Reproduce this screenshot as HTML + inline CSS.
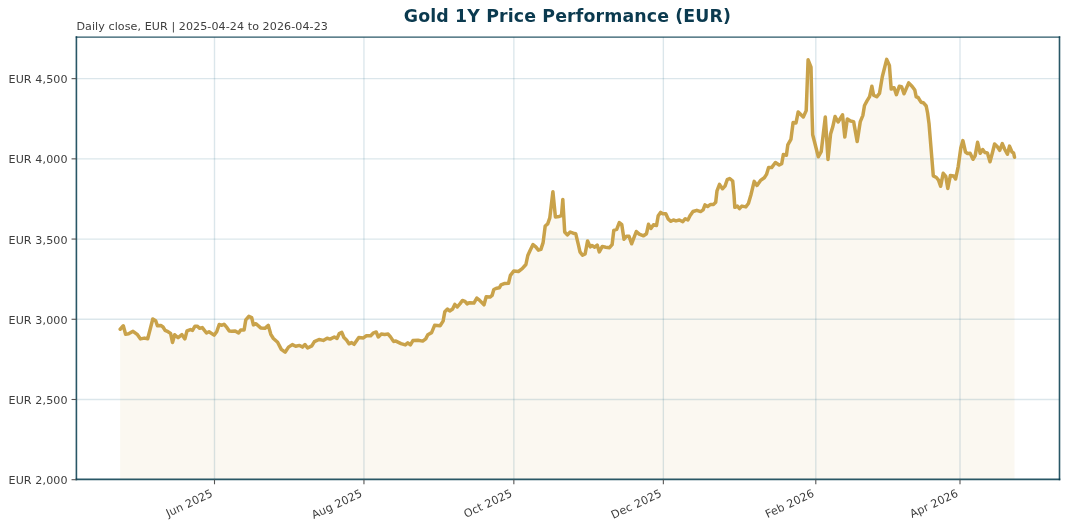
<!DOCTYPE html>
<html><head><meta charset="utf-8"><title>Gold 1Y Price Performance (EUR)</title>
<style>html,body{margin:0;padding:0;background:#fff;} svg{display:block;will-change:transform;}</style></head>
<body>
<svg width="1068" height="530" viewBox="0 0 1068 530">
<rect width="1068" height="530" fill="#ffffff"/>
<polygon points="120.2,479.4 120.2,329.2 123.3,325.8 125.6,334.3 128.6,333.8 133.0,331.3 137.5,334.7 140.5,338.9 144.3,338.1 147.7,338.7 152.8,319.0 155.7,320.7 157.4,325.8 160.8,325.4 163.0,327.0 165.1,330.4 168.0,331.7 170.6,333.4 172.5,342.5 174.7,334.7 178.1,337.7 181.9,334.7 184.9,338.9 187.0,330.9 190.4,329.6 192.5,330.4 195.0,326.2 197.2,326.2 199.7,328.3 202.3,327.6 206.5,333.0 209.0,331.7 214.1,335.1 216.7,331.7 219.2,324.5 221.8,325.3 224.0,324.2 227.0,327.7 229.3,331.1 231.8,331.3 235.2,330.9 238.6,333.0 240.7,330.0 244.1,330.0 245.8,319.8 248.8,316.4 251.7,317.7 253.4,324.9 256.0,323.7 260.7,327.9 264.9,328.3 268.3,325.4 270.8,334.3 273.4,338.5 277.6,342.3 281.3,349.4 285.1,352.2 288.5,347.1 292.3,344.6 295.7,346.3 299.5,345.4 302.5,347.1 305.0,344.6 307.6,348.0 311.8,345.9 314.4,341.6 319.0,339.5 323.3,340.4 327.1,338.2 330.1,339.1 334.3,337.0 337.0,338.5 339.3,333.6 341.8,332.4 343.9,337.5 346.5,340.0 349.0,343.8 351.6,342.6 354.1,344.3 358.8,337.5 363.4,337.9 366.4,335.8 370.7,335.8 373.6,332.8 376.2,332.0 378.3,337.0 381.3,334.1 384.7,334.5 388.1,334.1 390.5,336.9 393.5,341.4 395.9,341.1 401.0,343.6 405.3,344.9 407.8,342.8 410.4,344.9 412.9,340.6 418.0,340.2 422.7,341.1 425.7,338.9 427.8,334.7 431.6,332.6 434.6,325.3 440.1,325.8 443.1,321.1 444.8,311.8 447.5,309.1 449.7,311.0 452.6,309.0 454.8,304.4 457.3,306.9 459.9,303.9 462.4,300.5 465.0,301.4 467.1,303.9 469.6,302.7 473.9,303.1 476.8,298.0 479.4,300.1 484.0,304.8 486.2,296.7 490.0,297.1 492.1,295.4 493.8,289.5 496.8,288.2 499.3,287.8 501.0,284.9 504.8,283.4 508.5,283.3 510.4,275.3 513.7,271.1 518.4,271.5 522.2,268.7 525.9,264.5 527.8,255.5 530.2,250.3 533.0,244.6 535.8,246.9 538.4,250.2 540.9,249.4 543.1,242.6 545.2,226.0 547.7,223.9 549.8,217.9 552.9,191.7 555.4,216.9 559.2,216.4 561.5,215.6 562.8,199.4 564.7,232.0 567.3,234.9 570.2,232.0 573.2,233.2 575.7,233.7 578.3,244.3 580.0,251.9 582.5,255.3 585.1,254.0 587.6,240.9 590.2,246.9 592.0,245.5 594.7,247.2 597.2,245.1 599.3,251.9 602.3,246.4 605.7,247.2 609.5,247.7 612.1,244.7 613.8,230.3 616.7,229.4 619.3,222.6 621.8,224.7 624.0,239.2 626.5,236.2 629.0,236.2 631.6,243.8 636.3,231.5 639.2,234.1 643.5,235.8 646.5,233.7 648.5,224.3 650.9,228.5 653.5,224.7 656.5,225.5 658.2,215.8 660.7,212.4 662.8,213.7 665.8,213.7 668.3,219.2 670.9,221.3 673.4,220.0 676.0,220.9 679.4,220.0 682.8,221.7 685.3,218.7 687.9,220.0 690.0,215.8 693.0,211.5 696.8,210.3 700.6,211.6 703.1,209.9 705.0,204.9 707.6,206.5 710.6,204.4 713.6,204.4 715.7,202.2 717.0,190.8 719.5,184.4 722.5,188.7 725.0,186.1 727.2,179.7 729.7,178.5 732.7,181.0 734.0,195.0 734.8,207.3 737.4,206.1 739.5,208.6 742.0,206.1 745.8,206.9 748.4,203.5 750.9,195.0 754.2,181.4 757.0,185.4 760.5,180.4 764.3,177.8 766.5,174.4 768.6,167.6 771.6,167.6 775.4,162.5 779.2,165.0 781.7,163.7 783.4,154.4 786.4,155.3 787.8,144.9 790.9,139.4 793.1,122.5 796.0,122.9 798.2,111.9 803.3,117.0 806.2,110.6 808.1,59.8 811.0,67.2 812.1,115.4 812.7,134.7 818.3,156.8 821.2,151.7 825.3,117.0 828.0,159.4 830.6,133.9 832.7,127.1 835.1,116.5 838.1,122.0 842.5,114.8 844.8,137.0 847.3,119.0 850.5,121.0 853.6,121.6 857.2,141.6 860.3,121.6 862.9,115.3 864.5,105.5 867.0,100.9 869.6,96.6 871.9,86.2 873.6,95.2 876.7,96.8 879.5,93.4 882.3,76.8 886.7,59.4 889.4,65.5 891.2,89.1 894.1,87.7 896.4,94.7 899.3,86.2 901.6,86.7 904.0,93.8 908.7,82.9 912.0,86.2 914.8,90.0 916.2,96.8 918.1,97.5 921.0,102.2 923.3,102.7 926.2,106.0 927.6,113.0 929.0,123.4 933.3,175.9 936.4,177.5 938.5,180.1 940.6,186.3 943.2,173.3 945.8,176.4 947.8,188.4 950.4,175.4 953.6,175.9 955.6,179.0 958.2,166.6 960.8,147.9 962.9,140.6 965.5,152.0 967.6,153.6 970.1,153.3 973.0,159.3 975.1,155.9 977.6,142.3 980.2,153.3 982.7,149.5 984.9,152.5 987.4,152.9 990.0,161.8 992.5,152.5 994.6,144.0 997.2,146.5 999.7,150.3 1002.3,143.6 1004.8,149.5 1007.4,154.2 1009.5,146.1 1012.0,152.0 1013.6,153.0 1014.5,157.2 1014.5,479.4" fill="#c9a24a" fill-opacity="0.08" stroke="none"/>
<line x1="214.5" y1="37.1" x2="214.5" y2="479.4" stroke="#1f6385" stroke-opacity="0.16" stroke-width="1.35"/>
<line x1="363.95" y1="37.1" x2="363.95" y2="479.4" stroke="#1f6385" stroke-opacity="0.16" stroke-width="1.35"/>
<line x1="513.85" y1="37.1" x2="513.85" y2="479.4" stroke="#1f6385" stroke-opacity="0.16" stroke-width="1.35"/>
<line x1="663.35" y1="37.1" x2="663.35" y2="479.4" stroke="#1f6385" stroke-opacity="0.16" stroke-width="1.35"/>
<line x1="815.8" y1="37.1" x2="815.8" y2="479.4" stroke="#1f6385" stroke-opacity="0.16" stroke-width="1.35"/>
<line x1="960.0" y1="37.1" x2="960.0" y2="479.4" stroke="#1f6385" stroke-opacity="0.16" stroke-width="1.35"/>
<line x1="76.4" y1="399.49" x2="1059.5" y2="399.49" stroke="#1f6385" stroke-opacity="0.16" stroke-width="1.35"/>
<line x1="76.4" y1="319.27" x2="1059.5" y2="319.27" stroke="#1f6385" stroke-opacity="0.16" stroke-width="1.35"/>
<line x1="76.4" y1="239.06" x2="1059.5" y2="239.06" stroke="#1f6385" stroke-opacity="0.16" stroke-width="1.35"/>
<line x1="76.4" y1="158.85" x2="1059.5" y2="158.85" stroke="#1f6385" stroke-opacity="0.16" stroke-width="1.35"/>
<line x1="76.4" y1="78.64" x2="1059.5" y2="78.64" stroke="#1f6385" stroke-opacity="0.16" stroke-width="1.35"/>
<polyline points="120.2,329.2 123.3,325.8 125.6,334.3 128.6,333.8 133.0,331.3 137.5,334.7 140.5,338.9 144.3,338.1 147.7,338.7 152.8,319.0 155.7,320.7 157.4,325.8 160.8,325.4 163.0,327.0 165.1,330.4 168.0,331.7 170.6,333.4 172.5,342.5 174.7,334.7 178.1,337.7 181.9,334.7 184.9,338.9 187.0,330.9 190.4,329.6 192.5,330.4 195.0,326.2 197.2,326.2 199.7,328.3 202.3,327.6 206.5,333.0 209.0,331.7 214.1,335.1 216.7,331.7 219.2,324.5 221.8,325.3 224.0,324.2 227.0,327.7 229.3,331.1 231.8,331.3 235.2,330.9 238.6,333.0 240.7,330.0 244.1,330.0 245.8,319.8 248.8,316.4 251.7,317.7 253.4,324.9 256.0,323.7 260.7,327.9 264.9,328.3 268.3,325.4 270.8,334.3 273.4,338.5 277.6,342.3 281.3,349.4 285.1,352.2 288.5,347.1 292.3,344.6 295.7,346.3 299.5,345.4 302.5,347.1 305.0,344.6 307.6,348.0 311.8,345.9 314.4,341.6 319.0,339.5 323.3,340.4 327.1,338.2 330.1,339.1 334.3,337.0 337.0,338.5 339.3,333.6 341.8,332.4 343.9,337.5 346.5,340.0 349.0,343.8 351.6,342.6 354.1,344.3 358.8,337.5 363.4,337.9 366.4,335.8 370.7,335.8 373.6,332.8 376.2,332.0 378.3,337.0 381.3,334.1 384.7,334.5 388.1,334.1 390.5,336.9 393.5,341.4 395.9,341.1 401.0,343.6 405.3,344.9 407.8,342.8 410.4,344.9 412.9,340.6 418.0,340.2 422.7,341.1 425.7,338.9 427.8,334.7 431.6,332.6 434.6,325.3 440.1,325.8 443.1,321.1 444.8,311.8 447.5,309.1 449.7,311.0 452.6,309.0 454.8,304.4 457.3,306.9 459.9,303.9 462.4,300.5 465.0,301.4 467.1,303.9 469.6,302.7 473.9,303.1 476.8,298.0 479.4,300.1 484.0,304.8 486.2,296.7 490.0,297.1 492.1,295.4 493.8,289.5 496.8,288.2 499.3,287.8 501.0,284.9 504.8,283.4 508.5,283.3 510.4,275.3 513.7,271.1 518.4,271.5 522.2,268.7 525.9,264.5 527.8,255.5 530.2,250.3 533.0,244.6 535.8,246.9 538.4,250.2 540.9,249.4 543.1,242.6 545.2,226.0 547.7,223.9 549.8,217.9 552.9,191.7 555.4,216.9 559.2,216.4 561.5,215.6 562.8,199.4 564.7,232.0 567.3,234.9 570.2,232.0 573.2,233.2 575.7,233.7 578.3,244.3 580.0,251.9 582.5,255.3 585.1,254.0 587.6,240.9 590.2,246.9 592.0,245.5 594.7,247.2 597.2,245.1 599.3,251.9 602.3,246.4 605.7,247.2 609.5,247.7 612.1,244.7 613.8,230.3 616.7,229.4 619.3,222.6 621.8,224.7 624.0,239.2 626.5,236.2 629.0,236.2 631.6,243.8 636.3,231.5 639.2,234.1 643.5,235.8 646.5,233.7 648.5,224.3 650.9,228.5 653.5,224.7 656.5,225.5 658.2,215.8 660.7,212.4 662.8,213.7 665.8,213.7 668.3,219.2 670.9,221.3 673.4,220.0 676.0,220.9 679.4,220.0 682.8,221.7 685.3,218.7 687.9,220.0 690.0,215.8 693.0,211.5 696.8,210.3 700.6,211.6 703.1,209.9 705.0,204.9 707.6,206.5 710.6,204.4 713.6,204.4 715.7,202.2 717.0,190.8 719.5,184.4 722.5,188.7 725.0,186.1 727.2,179.7 729.7,178.5 732.7,181.0 734.0,195.0 734.8,207.3 737.4,206.1 739.5,208.6 742.0,206.1 745.8,206.9 748.4,203.5 750.9,195.0 754.2,181.4 757.0,185.4 760.5,180.4 764.3,177.8 766.5,174.4 768.6,167.6 771.6,167.6 775.4,162.5 779.2,165.0 781.7,163.7 783.4,154.4 786.4,155.3 787.8,144.9 790.9,139.4 793.1,122.5 796.0,122.9 798.2,111.9 803.3,117.0 806.2,110.6 808.1,59.8 811.0,67.2 812.1,115.4 812.7,134.7 818.3,156.8 821.2,151.7 825.3,117.0 828.0,159.4 830.6,133.9 832.7,127.1 835.1,116.5 838.1,122.0 842.5,114.8 844.8,137.0 847.3,119.0 850.5,121.0 853.6,121.6 857.2,141.6 860.3,121.6 862.9,115.3 864.5,105.5 867.0,100.9 869.6,96.6 871.9,86.2 873.6,95.2 876.7,96.8 879.5,93.4 882.3,76.8 886.7,59.4 889.4,65.5 891.2,89.1 894.1,87.7 896.4,94.7 899.3,86.2 901.6,86.7 904.0,93.8 908.7,82.9 912.0,86.2 914.8,90.0 916.2,96.8 918.1,97.5 921.0,102.2 923.3,102.7 926.2,106.0 927.6,113.0 929.0,123.4 933.3,175.9 936.4,177.5 938.5,180.1 940.6,186.3 943.2,173.3 945.8,176.4 947.8,188.4 950.4,175.4 953.6,175.9 955.6,179.0 958.2,166.6 960.8,147.9 962.9,140.6 965.5,152.0 967.6,153.6 970.1,153.3 973.0,159.3 975.1,155.9 977.6,142.3 980.2,153.3 982.7,149.5 984.9,152.5 987.4,152.9 990.0,161.8 992.5,152.5 994.6,144.0 997.2,146.5 999.7,150.3 1002.3,143.6 1004.8,149.5 1007.4,154.2 1009.5,146.1 1012.0,152.0 1013.6,153.0 1014.5,157.2" fill="none" stroke="#c9a24a" stroke-width="3.5" stroke-linejoin="round" stroke-linecap="round"/>
<line x1="76.4" y1="37.1" x2="76.4" y2="479.4" stroke="#04394b" stroke-opacity="0.85" stroke-width="1.6" stroke-linecap="square"/>
<line x1="1059.5" y1="37.1" x2="1059.5" y2="479.4" stroke="#04394b" stroke-opacity="0.85" stroke-width="1.6" stroke-linecap="square"/>
<line x1="76.4" y1="37.15" x2="1059.5" y2="37.15" stroke="#04394b" stroke-opacity="0.85" stroke-width="1.3" stroke-linecap="square"/>
<line x1="76.4" y1="479.4" x2="1059.5" y2="479.4" stroke="#04394b" stroke-opacity="0.85" stroke-width="1.6" stroke-linecap="square"/>
<line x1="214.5" y1="479.4" x2="214.5" y2="484.26" stroke="#555555" stroke-width="1.1"/>
<line x1="363.95" y1="479.4" x2="363.95" y2="484.26" stroke="#555555" stroke-width="1.1"/>
<line x1="513.85" y1="479.4" x2="513.85" y2="484.26" stroke="#555555" stroke-width="1.1"/>
<line x1="663.35" y1="479.4" x2="663.35" y2="484.26" stroke="#555555" stroke-width="1.1"/>
<line x1="815.8" y1="479.4" x2="815.8" y2="484.26" stroke="#555555" stroke-width="1.1"/>
<line x1="960.0" y1="479.4" x2="960.0" y2="484.26" stroke="#555555" stroke-width="1.1"/>
<line x1="71.54" y1="479.70" x2="76.4" y2="479.70" stroke="#555555" stroke-width="1.1"/>
<line x1="71.54" y1="399.49" x2="76.4" y2="399.49" stroke="#555555" stroke-width="1.1"/>
<line x1="71.54" y1="319.27" x2="76.4" y2="319.27" stroke="#555555" stroke-width="1.1"/>
<line x1="71.54" y1="239.06" x2="76.4" y2="239.06" stroke="#555555" stroke-width="1.1"/>
<line x1="71.54" y1="158.85" x2="76.4" y2="158.85" stroke="#555555" stroke-width="1.1"/>
<line x1="71.54" y1="78.64" x2="76.4" y2="78.64" stroke="#555555" stroke-width="1.1"/>
<text x="67.58" y="484.20" font-family="DejaVu Sans, sans-serif" font-size="11.11" fill="#3d3d3d" text-anchor="end" textLength="59.08" lengthAdjust="spacing">EUR 2,000</text>
<text x="67.58" y="403.99" font-family="DejaVu Sans, sans-serif" font-size="11.11" fill="#3d3d3d" text-anchor="end" textLength="59.08" lengthAdjust="spacing">EUR 2,500</text>
<text x="67.58" y="323.77" font-family="DejaVu Sans, sans-serif" font-size="11.11" fill="#3d3d3d" text-anchor="end" textLength="59.08" lengthAdjust="spacing">EUR 3,000</text>
<text x="67.58" y="243.56" font-family="DejaVu Sans, sans-serif" font-size="11.11" fill="#3d3d3d" text-anchor="end" textLength="59.08" lengthAdjust="spacing">EUR 3,500</text>
<text x="67.58" y="163.35" font-family="DejaVu Sans, sans-serif" font-size="11.11" fill="#3d3d3d" text-anchor="end" textLength="59.08" lengthAdjust="spacing">EUR 4,000</text>
<text x="67.58" y="83.14" font-family="DejaVu Sans, sans-serif" font-size="11.11" fill="#3d3d3d" text-anchor="end" textLength="59.08" lengthAdjust="spacing">EUR 4,500</text>
<text transform="translate(213.52,496.07) rotate(-25)" x="0" y="0" font-family="DejaVu Sans, sans-serif" font-size="11.11" fill="#3d3d3d" text-anchor="end" textLength="49.90" lengthAdjust="spacing">Jun 2025</text>
<text transform="translate(362.97,496.07) rotate(-25)" x="0" y="0" font-family="DejaVu Sans, sans-serif" font-size="11.11" fill="#3d3d3d" text-anchor="end" textLength="54.30" lengthAdjust="spacing">Aug 2025</text>
<text transform="translate(512.87,496.07) rotate(-25)" x="0" y="0" font-family="DejaVu Sans, sans-serif" font-size="11.11" fill="#3d3d3d" text-anchor="end" textLength="51.78" lengthAdjust="spacing">Oct 2025</text>
<text transform="translate(662.37,496.07) rotate(-25)" x="0" y="0" font-family="DejaVu Sans, sans-serif" font-size="11.11" fill="#3d3d3d" text-anchor="end" textLength="54.10" lengthAdjust="spacing">Dec 2025</text>
<text transform="translate(814.82,496.07) rotate(-25)" x="0" y="0" font-family="DejaVu Sans, sans-serif" font-size="11.11" fill="#3d3d3d" text-anchor="end" textLength="52.25" lengthAdjust="spacing">Feb 2026</text>
<text transform="translate(959.02,496.07) rotate(-25)" x="0" y="0" font-family="DejaVu Sans, sans-serif" font-size="11.11" fill="#3d3d3d" text-anchor="end" textLength="51.79" lengthAdjust="spacing">Apr 2026</text>
<text x="567.4" y="21.9" font-family="DejaVu Sans, sans-serif" font-weight="bold" font-size="17.36" fill="#0b3a4f" text-anchor="middle" textLength="327.24" lengthAdjust="spacing">Gold 1Y Price Performance (EUR)</text>
<text x="76.4" y="30.25" font-family="DejaVu Sans, sans-serif" font-size="11.11" fill="#3d3d3d" textLength="251.45" lengthAdjust="spacing">Daily close, EUR | 2025-04-24 to 2026-04-23</text>
</svg>
</body></html>
